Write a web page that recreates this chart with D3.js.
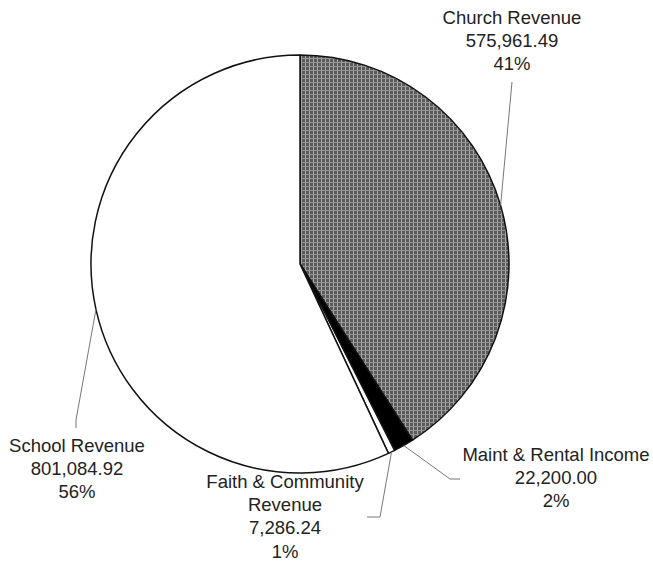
<!DOCTYPE html>
<html lang="en">
<head>
<meta charset="utf-8">
<title>Revenue pie</title>
<script src="https://d3js.org/d3.v7.min.js"></script>
<style>
  body { margin: 0; background: #fff; }
  text { font-family: "Liberation Sans", Arial, sans-serif; font-size: 18.5px; fill: #222; }
</style>
</head>
<body>
<script>
// data
var names = ["Church Revenue", "Maint & Rental Income", "Faith & Community Revenue", "School Revenue"];
var amounts = [575961.49, 22200.00, 7286.24, 801084.92];
var amountLabels = ["575,961.49", "22,200.00", "7,286.24", "801,084.92"];
var pctLabels = ["41%", "2%", "1%", "56%"];
var nameLines = [["Church Revenue"], ["Maint & Rental Income"], ["Faith & Community", "Revenue"], ["School Revenue"]];

var width = 653, height = 561;
var cx = 300, cy = 264, radius = 209;

// label placement (x centre, first baseline) and leader line bends
var labelPos = [[512, 24], [556, 461], [285, 488], [77, 452]];
var leaderPts = [
  [[512, 82]],
  [[450, 479], [460, 479]],
  [[380, 517], [367, 517]],
  [[76, 420], [76, 428]]
];
var fills = ["url(#hatch)", "#000", "#fff", "#fff"];

var svg = d3.select("body").append("svg")
  .attr("width", width)
  .attr("height", height);

// grey cross-hatch for the church slice
var pat = svg.append("defs").append("pattern")
  .attr("id", "hatch")
  .attr("patternUnits", "userSpaceOnUse")
  .attr("width", 4).attr("height", 4);
pat.append("rect").attr("width", 4).attr("height", 4).attr("fill", "#5a5a5a");
pat.append("rect").attr("x", 1).attr("width", 1).attr("height", 4).attr("fill", "#a8a8a8");
pat.append("rect").attr("y", 2).attr("width", 4).attr("height", 1).attr("fill", "#959595");

var pie = d3.pie().sort(null).value(function(d){ return d; });
var arcs = pie(amounts);

var arc = d3.arc().innerRadius(0).outerRadius(radius);

var g = svg.append("g").attr("transform", "translate(" + cx + "," + cy + ")");

g.selectAll("path.slice")
  .data(arcs)
  .enter()
  .append("path")
  .attr("class", "slice")
  .attr("d", arc)
  .attr("fill", function(d, i){ return fills[i]; })
  .attr("stroke", "#111")
  .attr("stroke-width", 1.5)
  .attr("stroke-linejoin", "round");

// leader lines, starting on the rim at each slice's middle angle
var line = d3.line();
arcs.forEach(function(d, i){
  var a = (d.startAngle + d.endAngle) / 2;
  var start = [cx + radius * Math.sin(a), cy - radius * Math.cos(a)];
  svg.append("path")
    .attr("d", line([start].concat(leaderPts[i])))
    .attr("fill", "none")
    .attr("stroke", "#777")
    .attr("stroke-width", 1);
});

// labels
names.forEach(function(n, i){
  var lines = nameLines[i].concat([amountLabels[i], pctLabels[i]]);
  var t = svg.append("text")
    .attr("text-anchor", "middle")
    .attr("x", labelPos[i][0])
    .attr("y", labelPos[i][1]);
  lines.forEach(function(s, j){
    t.append("tspan")
      .attr("x", labelPos[i][0])
      .attr("dy", j === 0 ? 0 : 23.2)
      .text(s);
  });
});
</script>
</body>
</html>
